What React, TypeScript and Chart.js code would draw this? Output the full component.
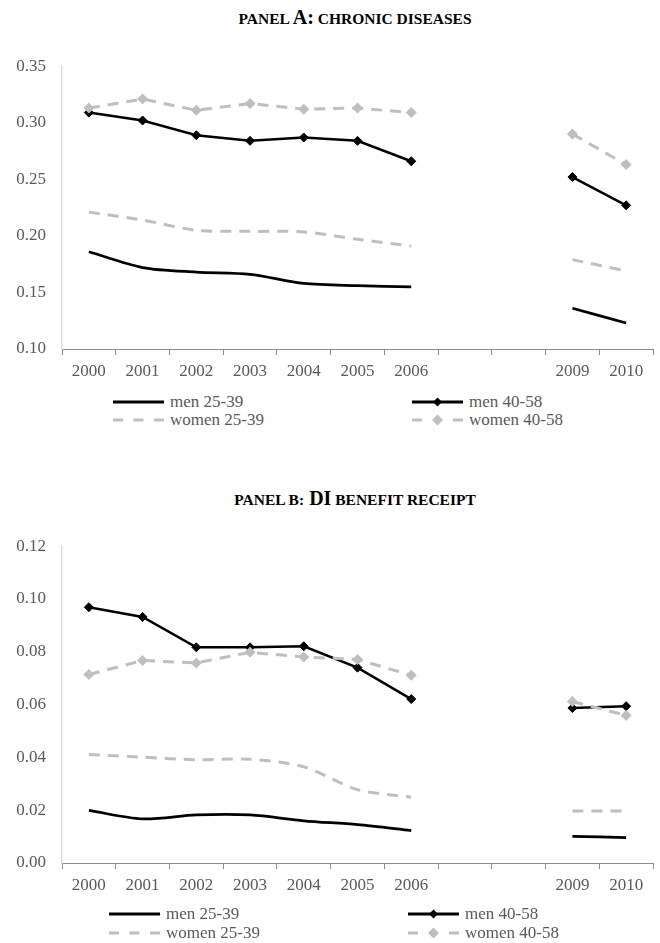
import React, { useEffect, useRef } from "react";
import { Chart, registerables } from "chart.js";

Chart.register(...registerables);

// Survey years; 2007 and 2008 have no observations and stay unlabelled.
const years = ["2000", "2001", "2002", "2003", "2004", "2005", "2006", "2007", "2008", "2009", "2010"];
const missingYears = ["2007", "2008"];

// Panel A: share reporting a chronic disease
const chronicMen2539 = [0.186, 0.172, 0.168, 0.166, 0.158, 0.156, 0.155, null, null, 0.136, 0.123];
const chronicMen4058 = [0.309, 0.302, 0.289, 0.284, 0.287, 0.284, 0.266, null, null, 0.252, 0.227];
const chronicWomen2539 = [0.221, 0.214, 0.205, 0.204, 0.2035, 0.197, 0.191, null, null, 0.179, 0.169];
const chronicWomen4058 = [0.313, 0.321, 0.311, 0.317, 0.312, 0.313, 0.309, null, null, 0.29, 0.263];
const chronicTicks = [0.1, 0.15, 0.2, 0.25, 0.3, 0.35];

// Panel B: share receiving DI benefits
const diMen2539 = [0.0199, 0.0167, 0.0182, 0.0182, 0.016, 0.0145, 0.0123, null, null, 0.0101, 0.0096];
const diMen4058 = [0.0969, 0.0932, 0.0817, 0.0817, 0.0821, 0.074, 0.0621, null, null, 0.0587, 0.0594];
const diWomen2539 = [0.0411, 0.0401, 0.0391, 0.0393, 0.0364, 0.0278, 0.0249, null, null, 0.0197, 0.0197];
const diWomen4058 = [0.0714, 0.0767, 0.0758, 0.0798, 0.078, 0.0771, 0.0711, null, null, 0.0612, 0.0559];
const diTicks = [0, 0.02, 0.04, 0.06, 0.08, 0.1, 0.12];

const seriesNames = ["men 25-39", "men 40-58", "women 25-39", "women 40-58"];

const BLACK = "#000000";
const GREY = "#bfbfbf";
const TEXT = "#595959";
const SERIF = "'Liberation Serif', 'Times New Roman', 'DejaVu Serif', serif";
const DASH = [11, 8];

type Series = (number | null)[];

function buildConfig(
  men2539: Series,
  men4058: Series,
  women2539: Series,
  women4058: Series,
  ticks: number[],
  topPad: number,
  axisHeight: number
): any {
  const step = ticks[1] - ticks[0];
  return {
    type: "line",
    data: {
      labels: years,
      datasets: [
        {
          label: seriesNames[0],
          data: men2539,
          borderColor: BLACK,
          borderWidth: 2.75,
          pointRadius: 0,
          tension: 0.3,
          order: 3,
        },
        {
          label: seriesNames[1],
          data: men4058,
          borderColor: BLACK,
          backgroundColor: BLACK,
          borderWidth: 2.5,
          pointStyle: "rectRot",
          pointRadius: 4.5,
          pointBorderWidth: 1,
          pointBorderColor: BLACK,
          pointBackgroundColor: BLACK,
          tension: 0,
          order: 2,
        },
        {
          label: seriesNames[2],
          data: women2539,
          borderColor: GREY,
          borderWidth: 3,
          borderDash: DASH,
          pointRadius: 0,
          tension: 0.3,
          order: 1,
        },
        {
          label: seriesNames[3],
          data: women4058,
          borderColor: GREY,
          backgroundColor: GREY,
          borderWidth: 3,
          borderDash: DASH,
          pointStyle: "rectRot",
          pointRadius: 5.5,
          pointBorderWidth: 0,
          pointBackgroundColor: GREY,
          tension: 0,
          order: 0,
        },
      ],
    },
    options: {
      responsive: false,
      animation: false,
      spanGaps: false,
      layout: { padding: { top: topPad, right: 7, left: 0, bottom: 0 } },
      plugins: {
        legend: { display: false },
        title: { display: false },
        tooltip: { enabled: false },
      },
      scales: {
        x: {
          type: "category",
          offset: true,
          grid: {
            display: true,
            offset: true,
            drawOnChartArea: false,
            drawTicks: true,
            tickLength: 6,
            color: "#8c8c8c",
            lineWidth: 1,
          },
          border: { display: true, color: "#8c8c8c", width: 1 },
          ticks: {
            autoSkip: false,
            maxRotation: 0,
            padding: 6,
            color: TEXT,
            font: { family: SERIF, size: 17 },
            callback: (_v: any, i: number) => (missingYears.includes(years[i]) ? "" : years[i]),
          },
          afterFit: (scale: any) => {
            scale.height = axisHeight;
          },
        },
        y: {
          min: ticks[0],
          max: ticks[ticks.length - 1],
          grid: { display: false, drawTicks: false },
          border: { display: true, color: "#e2ddcf", width: 1.5 },
          ticks: {
            stepSize: step,
            padding: 16,
            color: TEXT,
            font: { family: SERIF, size: 17 },
            callback: (v: any) => Number(v).toFixed(2),
          },
          afterBuildTicks: (scale: any) => {
            scale.ticks = ticks.map((value) => ({ value }));
          },
          afterFit: (scale: any) => {
            scale.width = 62;
          },
        },
      },
    },
  };
}

function PanelChart(props: {
  top: number;
  height: number;
  topPad: number;
  axisHeight: number;
  men2539: Series;
  men4058: Series;
  women2539: Series;
  women4058: Series;
  ticks: number[];
}) {
  const ref = useRef<HTMLCanvasElement | null>(null);
  useEffect(() => {
    if (!ref.current) return;
    const chart = new Chart(
      ref.current,
      buildConfig(
        props.men2539,
        props.men4058,
        props.women2539,
        props.women4058,
        props.ticks,
        props.topPad,
        props.axisHeight
      )
    );
    return () => chart.destroy();
  }, []);
  return (
    <canvas
      ref={ref}
      width={660}
      height={props.height}
      style={{ position: "absolute", left: 0, top: props.top, width: 660, height: props.height, display: "block" }}
    />
  );
}

// Title pieces: [text, isLarge]; small pieces are set as caps at a reduced size.
function PanelTitle(props: { top: number; parts: [string, boolean][] }) {
  return (
    <div
      style={{
        position: "absolute",
        left: 0,
        width: 710,
        top: props.top,
        textAlign: "center",
        fontFamily: SERIF,
        fontWeight: "bold",
        lineHeight: "22px",
        color: "#000",
        whiteSpace: "nowrap",
      }}
    >
      {props.parts.map(([t, large], i) => (
        <span key={i} style={{ fontSize: large ? 20 : 15.5 }}>
          {large ? t : t.toUpperCase()}
        </span>
      ))}
    </div>
  );
}

function Sample(props: { kind: number }) {
  const k = props.kind;
  const solid = k === 0 || k === 1;
  const color = solid ? BLACK : GREY;
  const marker = k === 1 || k === 3;
  const r = k === 1 ? 4.5 : 5.5;
  return (
    <svg width={51} height={14} style={{ display: "block" }}>
      {solid ? (
        <line x1={0} y1={7} x2={51} y2={7} stroke={color} strokeWidth={3} />
      ) : marker ? (
        <g>
          <line x1={0} y1={7} x2={10} y2={7} stroke={color} strokeWidth={3} />
          <line x1={41} y1={7} x2={51} y2={7} stroke={color} strokeWidth={3} />
        </g>
      ) : (
        <line x1={0} y1={7} x2={51} y2={7} stroke={color} strokeWidth={3} strokeDasharray="10 10.5" />
      )}
      {marker ? (
        <polygon points={`${25.5},${7 - r} ${25.5 + r},7 ${25.5},${7 + r} ${25.5 - r},7`} fill={color} />
      ) : null}
    </svg>
  );
}

function Legend(props: { rows: number[]; cols: number[] }) {
  const items = [
    { kind: 0, row: 0, col: 0 },
    { kind: 1, row: 0, col: 1 },
    { kind: 2, row: 1, col: 0 },
    { kind: 3, row: 1, col: 1 },
  ];
  return (
    <>
      {items.map((it) => (
        <div
          key={it.kind}
          style={{
            position: "absolute",
            left: props.cols[it.col],
            top: props.rows[it.row] - 10,
            height: 20,
            display: "flex",
            alignItems: "center",
            whiteSpace: "nowrap",
          }}
        >
          <Sample kind={it.kind} />
          <span
            style={{
              marginLeft: 6,
              fontFamily: SERIF,
              fontSize: 17,
              lineHeight: "20px",
              color: TEXT,
            }}
          >
            {seriesNames[it.kind]}
          </span>
        </div>
      ))}
    </>
  );
}

export default function App() {
  return (
    <div
      style={{
        position: "absolute",
        left: 0,
        top: 0,
        width: 660,
        height: 943,
        background: "#ffffff",
        overflow: "hidden",
      }}
    >
      <PanelTitle
        top={6}
        parts={[
          ["panel ", false],
          ["A:", true],
          [" chronic diseases", false],
        ]}
      />
      <PanelChart
        top={40}
        height={350}
        topPad={21}
        axisHeight={41}
        men2539={chronicMen2539}
        men4058={chronicMen4058}
        women2539={chronicWomen2539}
        women4058={chronicWomen4058}
        ticks={chronicTicks}
      />
      <Legend rows={[402, 420]} cols={[113, 412]} />

      <PanelTitle
        top={487}
        parts={[
          ["panel B:", false],
          [" DI", true],
          [" benefit receipt", false],
        ]}
      />
      <PanelChart
        top={520}
        height={385}
        topPad={20}
        axisHeight={42}
        men2539={diMen2539}
        men4058={diMen4058}
        women2539={diWomen2539}
        women4058={diWomen4058}
        ticks={diTicks}
      />
      <Legend rows={[914, 933]} cols={[109, 408]} />
    </div>
  );
}
